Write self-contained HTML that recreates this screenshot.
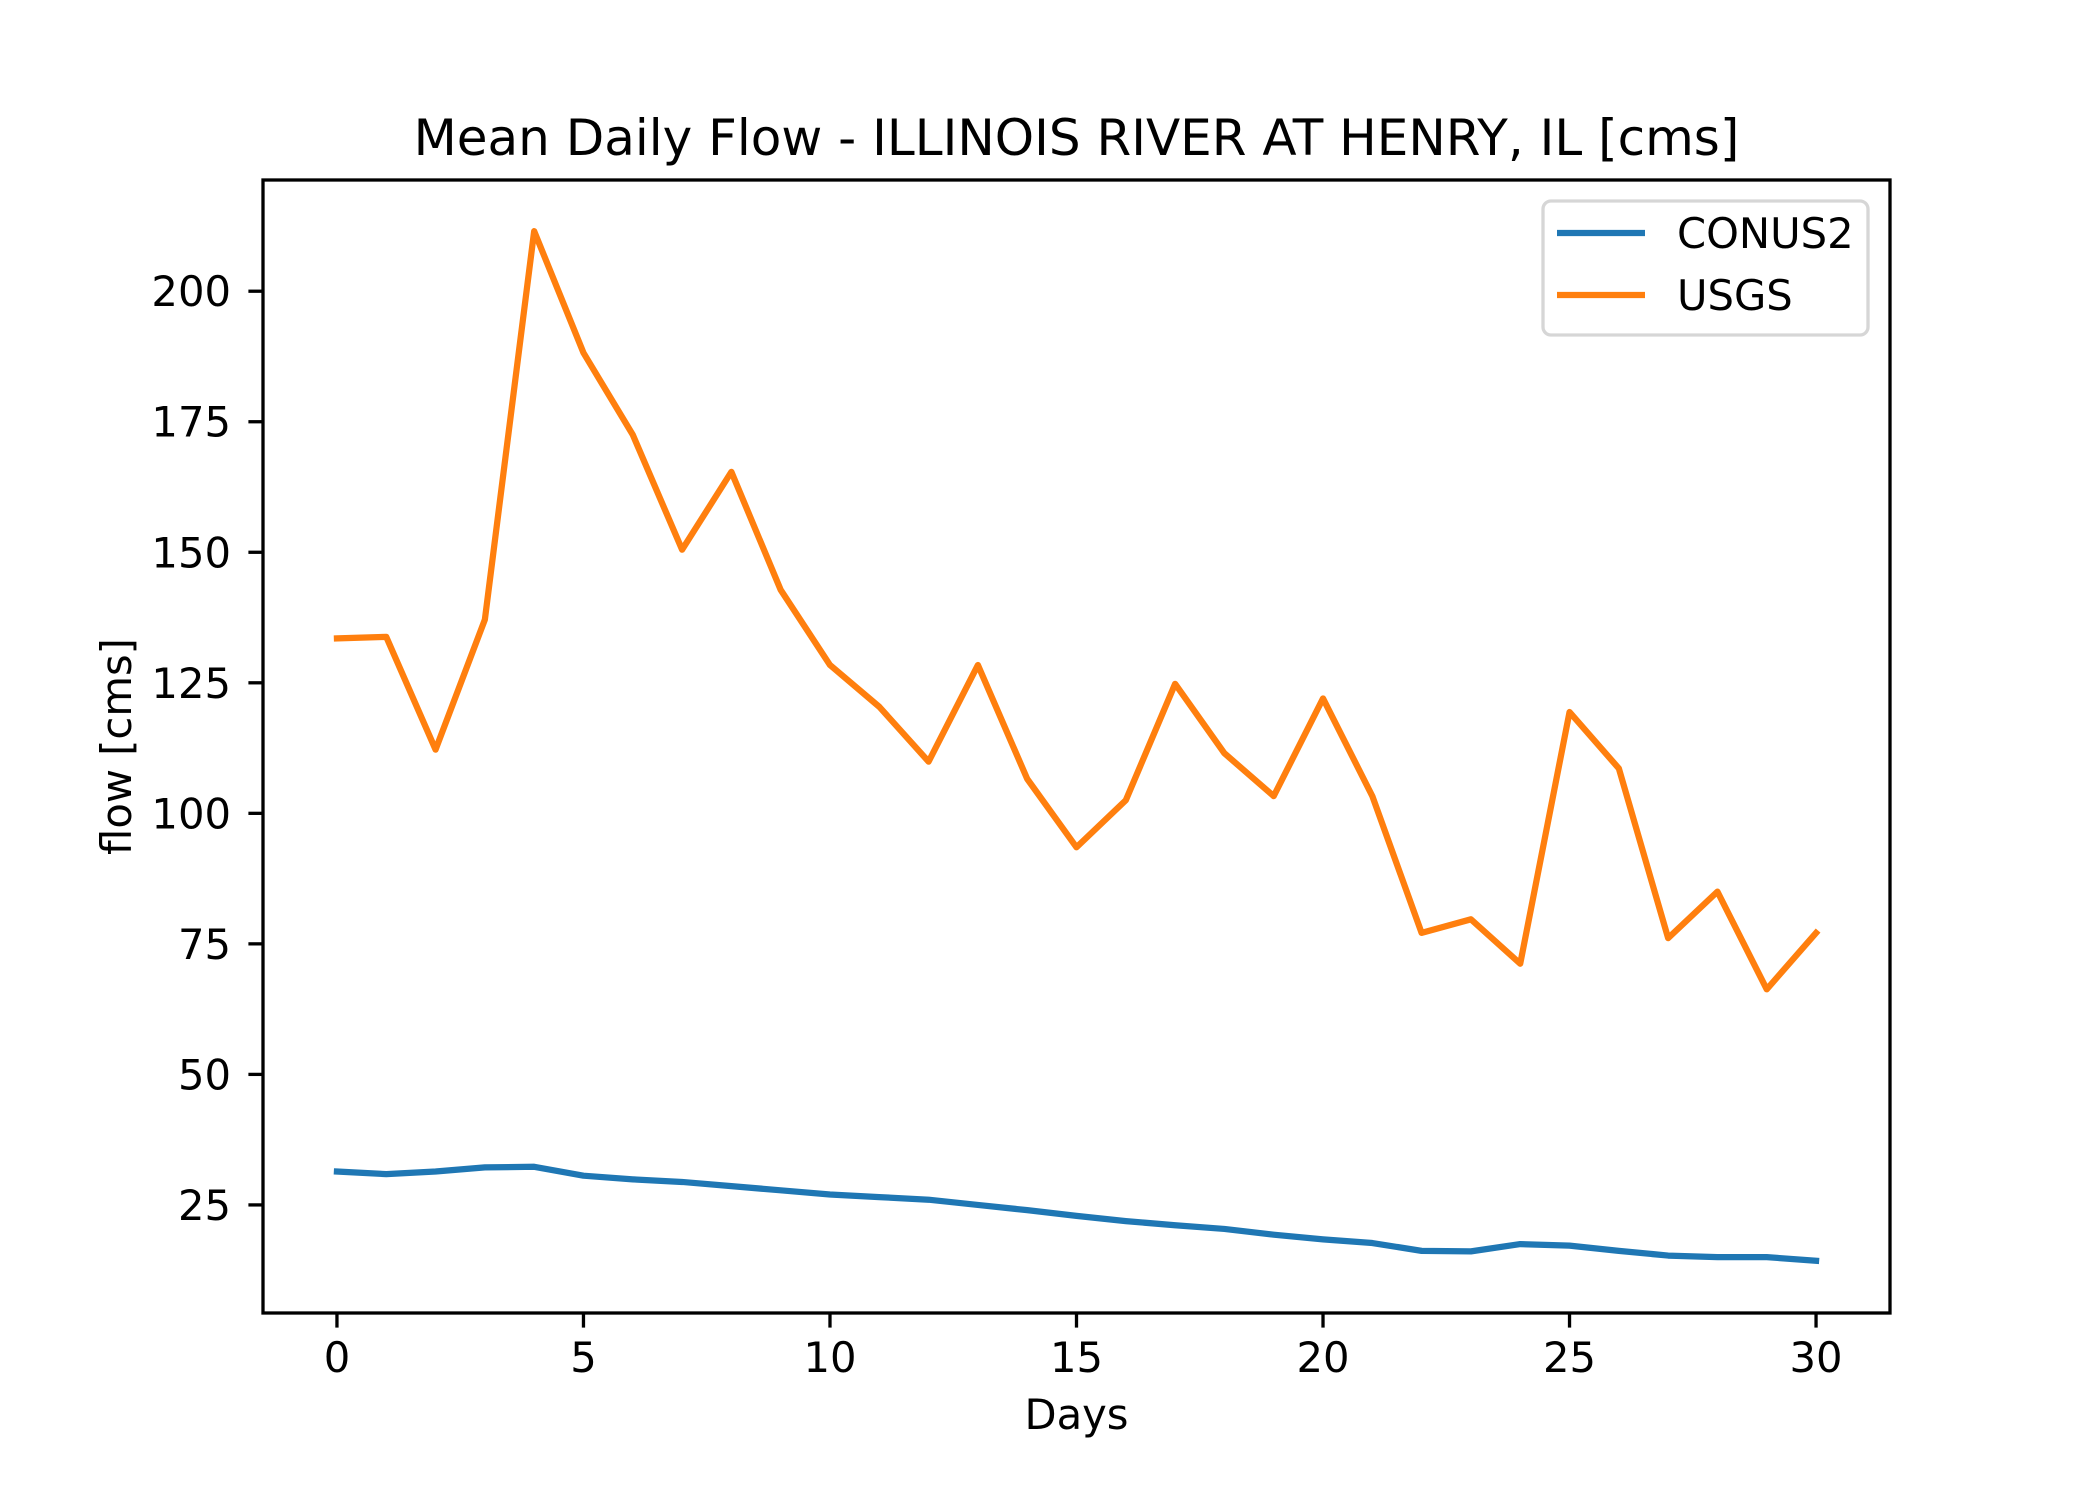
<!DOCTYPE html>
<html><head><meta charset="utf-8"><style>
html,body{margin:0;padding:0;background:#fff;}
svg{display:block;font-family:"DejaVu Sans","Liberation Sans",sans-serif;}
</style></head><body>
<svg id="chart" width="2100" height="1500" viewBox="0 0 2100 1500">
<rect width="2100" height="1500" fill="#fff"/>
<g id="plot"></g>
</svg>
<script>
const days = [0,1,2,3,4,5,6,7,8,9,10,11,12,13,14,15,16,17,18,19,20,21,22,23,24,25,26,27,28,29,30];
const usgs = [133.5,133.8,112.2,137.1,211.5,188.2,172.5,150.5,165.4,142.8,128.4,120.4,109.9,128.4,106.6,93.5,102.5,124.8,111.5,103.3,122.0,103.3,77.1,79.7,71.2,119.4,108.6,76.1,85.0,66.3,77.1];
const conus2 = [31.4,30.9,31.4,32.2,32.3,30.6,29.9,29.4,28.6,27.8,27.0,26.5,26.0,25.0,24.0,22.9,21.9,21.1,20.4,19.3,18.4,17.7,16.2,16.1,17.5,17.2,16.2,15.3,15.0,15.0,14.3];
const xTicks = [0,5,10,15,20,25,30];
const yTicks = [25,50,75,100,125,150,175,200];
const seriesNames = ["CONUS2","USGS"];

const L=263,R=1890,T=180,B=1313;
const xMin=-1.5,xMax=31.5,yMin=4.3,yMax=221.3;
const sx=v=>L+(v-xMin)/(xMax-xMin)*(R-L);
const sy=v=>B-(v-yMin)/(yMax-yMin)*(B-T);
const NS="http://www.w3.org/2000/svg";
const g=document.getElementById('plot');
function mk(tag,attrs,parent){const e=document.createElementNS(NS,tag);for(const k in attrs)e.setAttribute(k,attrs[k]);(parent||g).appendChild(e);return e;}

function line(vals,color,name){
  const p=mk('polyline',{points:vals.map((v,i)=>sx(days[i])+','+sy(v)).join(' '),fill:'none',stroke:color,'stroke-width':6.25,'stroke-linejoin':'round','stroke-linecap':'square'});
  
  
}
line(conus2,'#1f77b4','conus2-line');
line(usgs,'#ff7f0e','usgs-line');

const frame=mk('rect',{x:L,y:T,width:R-L,height:B-T,fill:'none',stroke:'#000','stroke-width':3.3});



xTicks.forEach(t=>{
  const x=sx(t);
  const tk=mk('line',{x1:x,x2:x,y1:B,y2:B+14.6,stroke:'#000','stroke-width':3.3});
  
  
  const tx=mk('text',{x:x,y:1372,'text-anchor':'middle','font-size':41.7,fill:'#000'});
  tx.textContent=t;
  
  
});
yTicks.forEach(t=>{
  const y=sy(t);
  const tk=mk('line',{x1:L-14.6,x2:L,y1:y,y2:y,stroke:'#000','stroke-width':3.3});
  
  
  const tx=mk('text',{x:231,y:y+15,'text-anchor':'end','font-size':41.7,fill:'#000'});
  tx.textContent=t;
  
  
});

const title=mk('text',{x:(L+R)/2,y:155,'text-anchor':'middle','font-size':50,fill:'#000'});
title.textContent='Mean Daily Flow - ILLINOIS RIVER AT HENRY, IL [cms]';


const xl=mk('text',{x:(L+R)/2,y:1429,'text-anchor':'middle','font-size':41.7,fill:'#000'});
xl.textContent='Days';


const yl=mk('text',{x:0,y:0,'text-anchor':'middle','font-size':41.7,fill:'#000',transform:'translate(131,'+((T+B)/2)+') rotate(-90)'});
yl.textContent='flow [cms]';



const leg=mk('g',{});


mk('rect',{x:1543,y:201,width:325,height:134,rx:8,fill:'#fff','fill-opacity':0.8,stroke:'#d6d6d6','stroke-width':3.3},leg);
const colors=['#1f77b4','#ff7f0e'];
seriesNames.forEach((n,i)=>{
  const y=233+i*62;
  const e=mk('g',{},leg);
  
  
  mk('line',{x1:1557,x2:1645,y1:y,y2:y,stroke:colors[i],'stroke-width':6.25},e);
  const t=mk('text',{x:1677,y:y+15,'font-size':41.7,fill:'#000'},e);
  t.textContent=n;
});
</script>
</body></html>
